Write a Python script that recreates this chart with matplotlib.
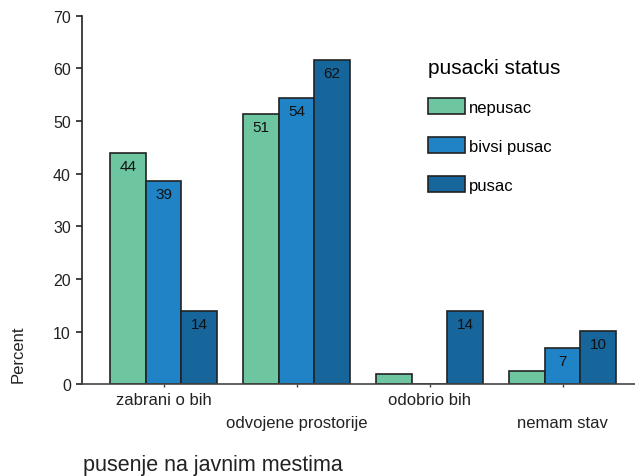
import numpy as np
import matplotlib.pyplot as plt
from matplotlib.patches import Patch

plt.rcParams['font.family'] = ['Liberation Sans', 'DejaVu Sans']

categories = ['zabrani o bih', 'odvojene prostorije', 'odobrio bih', 'nemam stav']
series = ['nepusac', 'bivsi pusac', 'pusac']
nepusac = [43.9, 51.4, 2.0, 2.5]
bivsi_pusac = [38.6, 54.4, 0.0, 6.9]
pusac = [14.0, 61.6, 14.0, 10.1]
colors = ['#6dc6a0', '#1f83c5', '#16659b']

values = [nepusac, bivsi_pusac, pusac]

fig = plt.figure(figsize=(6.35, 4.77), dpi=100)
ax = fig.add_axes([82 / 635, 1 - 385.3 / 477, 1 - 82 / 635, (385.3 - 16.7) / 477])

x = np.arange(len(categories))
w = 0.267
for i, (vals, col) in enumerate(zip(values, colors)):
    pos = x + (i - 1) * w
    bars = ax.bar(pos, vals, width=w, color=col, edgecolor='#222222', linewidth=1.2, zorder=2)
    for b, v in zip(bars, vals):
        if v >= 5:
            ax.annotate(f'{v:.0f}', xy=(b.get_x() + b.get_width() / 2, v),
                        xytext=(0, -13), textcoords='offset pixels',
                        ha='center', va='center', fontsize=11, color='#111111', zorder=3)

ax.set_xlim(-0.613, 3.545)
ax.set_ylim(0, 70)
ax.set_yticks(range(0, 71, 10))
ax.tick_params(axis='y', length=4, width=1.2, pad=4, labelsize=11.5, colors='#222222')
ax.set_xticks(x)
ax.set_xticklabels([])
ax.tick_params(axis='x', length=2.5, width=1, colors='#444444')
for s in ['top', 'right']:
    ax.spines[s].set_visible(False)
ax.spines['left'].set_linewidth(1.2)
ax.spines['left'].set_color('#222222')
ax.spines['bottom'].set_linewidth(1.2)
ax.spines['bottom'].set_color('#444444')

# staggered category labels
for i, lab in enumerate(categories):
    yoff = -15 if i % 2 == 0 else -38
    ax.annotate(lab, xy=(x[i], 0), xytext=(0, yoff), textcoords='offset pixels',
                ha='center', va='center', fontsize=12, color='#222222')

fig.text(83 / 635, 1 - 466 / 477, 'pusenje na javnim mestima', ha='left', va='center',
         fontsize=15.5, color='#222222')
fig.text(18 / 635, 1 - 383 / 477, 'Percent', rotation=90, ha='center', va='bottom',
         fontsize=12, color='#222222')

handles = [Patch(facecolor=c, edgecolor='#222222', linewidth=1.2) for c in colors]
leg = ax.legend(handles, series, title='pusacki status', loc='upper left',
                bbox_to_anchor=(420 / 635, 1 - 51 / 477), bbox_transform=fig.transFigure,
                frameon=False, fontsize=12, title_fontsize=15, handlelength=2.2,
                handleheight=1.08, labelspacing=1.35, handletextpad=0.25, borderpad=0,
                alignment='left')
leg._legend_box.sep = 15

fig.savefig('out.png', dpi=100)
